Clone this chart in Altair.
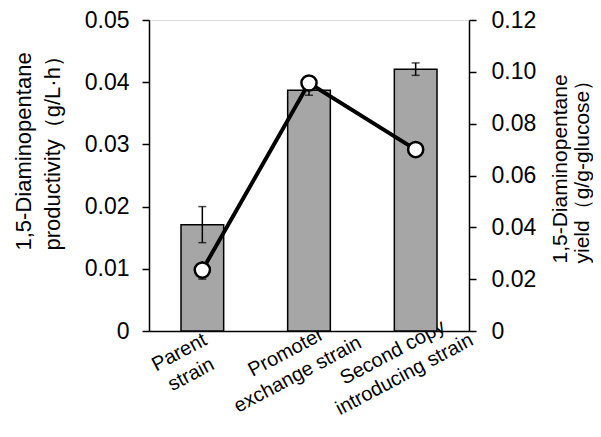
import altair as alt
import pandas as pd

strains = ["Parent|strain", "Promoter|exchange strain", "Second copy|introducing strain"]
productivity = [0.0171, 0.0387, 0.0421]
productivity_err = [0.0029, 0.0008, 0.0010]
yield_vals = [0.0235, 0.0957, 0.0700]
yield_err = [0.0035, 0.0, 0.0]

df = pd.DataFrame({
    "strain": strains,
    "prod": productivity,
    "prod_lo": [p - e for p, e in zip(productivity, productivity_err)],
    "prod_hi": [p + e for p, e in zip(productivity, productivity_err)],
    "yld": yield_vals,
    "yld_lo": [p - e for p, e in zip(yield_vals, yield_err)],
    "yld_hi": [p + e for p, e in zip(yield_vals, yield_err)],
})

FONT = "Liberation Sans"

x_enc = alt.X(
    "strain:N",
    sort=strains,
    scale=alt.Scale(paddingInner=0.6, paddingOuter=0.3),
    axis=alt.Axis(
        title=None,
        labelExpr="split(datum.label, '|')",
        labelAngle=332,
        labelAlign="center",
        labelBaseline="middle",
        labelOffset=-23,
        labelPadding=21,
        labelFontSize=20,
        labelLineHeight=25,
        labelOverlap=False,
        labelBound=False,
        ticks=False,
        tickSize=0,
        domainColor="black",
        domainWidth=1.5,
    ),
)

left_axis = alt.Axis(
    orient="left",
    values=[0, 0.01, 0.02, 0.03, 0.04, 0.05],
    labelExpr="datum.value == 0 ? '0' : format(datum.value, '.2f')",
    grid=False,
    tickSize=7,
    tickWidth=1.5,
    tickColor="black",
    domainColor="black",
    domainWidth=1.5,
    labelFontSize=23,
    labelPadding=13,
    title=["1,5-Diaminopentane", "productivity（g/L·h）"],
    titleAngle=270,
    titleAlign="left",
    titleBaseline="top",
    titleX=-136,
    titleY=230,
    titleFontSize=22,
    titleFontWeight="normal",
    titleLineHeight=29,
)

right_axis = alt.Axis(
    orient="right",
    values=[0, 0.02, 0.04, 0.06, 0.08, 0.10, 0.12],
    labelExpr="datum.value == 0 ? '0' : format(datum.value, '.2f')",
    grid=False,
    tickSize=7,
    tickWidth=1.5,
    tickColor="black",
    domainColor="black",
    domainWidth=1.5,
    labelFontSize=23,
    labelPadding=15,
    title=["1,5-Diaminopentane", "yield（g/g-glucose）"],
    titleAngle=270,
    titleAlign="left",
    titleBaseline="top",
    titleX=80,
    titleY=243,
    titleFontSize=21,
    titleFontWeight="normal",
    titleLineHeight=22,
)

left_scale = alt.Scale(domain=[0, 0.05], nice=False)
right_scale = alt.Scale(domain=[0, 0.12], nice=False)

base = alt.Chart(df)

bars = base.mark_bar(color="#a6a6a6", stroke="black", strokeWidth=1.5).encode(
    x=x_enc, y=alt.Y("prod:Q", scale=left_scale, axis=left_axis))
err_rule = base.mark_rule(color="black", strokeWidth=1.5).encode(
    x=x_enc, y=alt.Y("prod_lo:Q", scale=left_scale, axis=left_axis), y2="prod_hi:Q")
cap_lo = base.mark_tick(color="black", orient="horizontal", size=8, thickness=1.5).encode(
    x=x_enc, y=alt.Y("prod_lo:Q", scale=left_scale, axis=left_axis))
cap_hi = base.mark_tick(color="black", orient="horizontal", size=8, thickness=1.5).encode(
    x=x_enc, y=alt.Y("prod_hi:Q", scale=left_scale, axis=left_axis))

left = alt.layer(bars, err_rule, cap_lo, cap_hi)

yerr_df = df[df["yld_hi"] > df["yld"]]
ybase = alt.Chart(yerr_df)
line = base.mark_line(color="black", strokeWidth=4).encode(
    x=x_enc, y=alt.Y("yld:Q", scale=right_scale, axis=right_axis))
yerr_rule = ybase.mark_rule(color="black", strokeWidth=1.5).encode(
    x=x_enc, y=alt.Y("yld_lo:Q", scale=right_scale, axis=right_axis), y2="yld_hi:Q")
ycap_lo = ybase.mark_tick(color="black", orient="horizontal", size=8, thickness=1.5).encode(
    x=x_enc, y=alt.Y("yld_lo:Q", scale=right_scale, axis=right_axis))
points = base.mark_point(filled=True, fill="white", stroke="black", strokeWidth=2.5, size=230, opacity=1).encode(
    x=x_enc, y=alt.Y("yld:Q", scale=right_scale, axis=right_axis))

right = alt.layer(line, yerr_rule, ycap_lo, points)

chart = (
    alt.layer(left, right)
    .resolve_scale(y="independent")
    .properties(
        width=320,
        height=311,
        autosize=alt.AutoSizeParams(type="none"),
        padding={"left": 141, "top": 12, "right": 124, "bottom": 88},
    )
    .configure_view(stroke="black", strokeWidth=1.5)
    .configure_axis(labelFont=FONT, titleFont=FONT, labelColor="black", titleColor="black")
    .configure(background="white")
)

chart.save("out.html", embed_options={"renderer": "svg", "actions": False})
